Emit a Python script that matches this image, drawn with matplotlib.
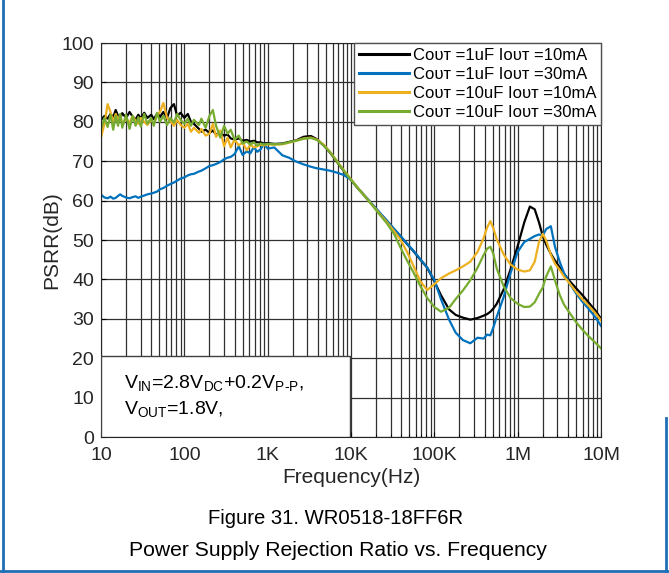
import matplotlib
matplotlib.use('Agg')
import matplotlib.pyplot as plt
from matplotlib.patches import Rectangle
from matplotlib.lines import Line2D

plt.rcParams['font.family'] = ['Liberation Sans', 'DejaVu Sans']
plt.rcParams['mathtext.fontset'] = 'custom'
plt.rcParams['mathtext.rm'] = 'Liberation Sans'
plt.rcParams['mathtext.it'] = 'Liberation Sans:italic'
plt.rcParams['mathtext.bf'] = 'Liberation Sans:bold'

# frequency points (Hz)
freq = [10, 11, 12, 13, 14, 15, 16, 17, 18, 20, 22, 24, 26, 28, 30, 33, 36, 40, 43, 47,
        51, 56, 62, 68, 75, 82, 90, 100, 110, 120, 130, 150, 160, 180, 200, 220, 240, 270,
        300, 330, 360, 400, 450, 500, 560, 620, 680, 750, 820, 900, 1000,
        1200, 1500, 1800, 2200, 2700, 3300, 3900, 4700, 5600, 6800, 8200,
        10e3, 12e3, 15e3, 18e3, 22e3, 27e3, 33e3, 39e3, 47e3, 56e3, 68e3, 82e3,
        100e3, 120e3, 150e3, 180e3, 220e3, 270e3, 330e3, 390e3, 430e3, 470e3, 510e3,
        560e3, 680e3, 820e3, 1e6, 1.2e6, 1.4e6, 1.6e6, 1.8e6, 2.0e6, 2.2e6, 2.5e6,
        2.8e6, 3.2e6, 3.6e6, 4.2e6, 5e6, 6e6, 7e6, 8.5e6, 10e6]

# Cout=1uF, Iout=10mA
psrr_1u_10m = [80.5, 81.5, 80.8, 82.0, 81.2, 83.0, 81.5, 80.8, 82.2, 81.0, 82.5, 81.3, 80.6, 81.8,
               80.9, 82.3, 81.0, 81.8, 80.7, 82.0, 81.2, 82.5, 81.0, 83.5, 84.5, 81.5, 82.3, 81.0,
               82.0, 80.0, 79.5, 78.2, 77.5, 78.0, 77.2, 77.8, 76.8, 77.2, 76.5, 76.8, 75.8, 75.5,
               75.8, 75.2, 75.4, 75.0, 75.2, 74.8, 74.8, 74.5, 74.6,
               74.4, 74.5, 74.9, 75.3, 76.2, 76.4, 75.6, 74.0, 72.2, 69.8, 67.5,
               65.2, 63.2, 60.9, 59.0, 56.9, 54.8, 52.7, 51.0, 49.0, 47.2, 45.0, 43.0,
               39.5, 36.0, 32.4, 31.0, 30.3, 29.8, 30.2, 30.8, 31.2, 31.8, 32.6,
               33.8, 37.5, 42.5, 48.5, 54.5, 58.5, 57.8, 54.5, 51.0, 48.8, 46.5,
               44.8, 43.0, 41.4, 39.6, 37.8, 36.0, 34.3, 32.2, 30.0]

# Cout=1uF, Iout=30mA
psrr_1u_30m = [61.5, 60.8, 60.6, 61.0, 60.5, 60.7, 61.2, 61.6, 61.2, 60.8, 60.6, 60.9, 61.1, 60.7,
               61.0, 61.3, 61.6, 61.8, 62.0, 62.3, 62.9, 63.2, 63.8, 64.2, 64.6, 65.1, 65.6, 65.9,
               66.4, 66.7, 66.8, 67.4, 67.6, 68.2, 68.8, 69.0, 69.3, 69.8, 70.5, 70.9, 71.1, 71.8,
               73.8, 71.6, 72.5, 72.0, 73.6, 72.4, 73.0, 74.4, 73.2,
               73.5, 71.5, 70.9, 69.9, 69.2, 68.6, 68.2, 67.9, 67.6, 67.1, 66.5,
               65.3, 63.3, 61.0, 59.1, 57.0, 54.9, 52.8, 51.1, 49.1, 47.3, 45.1, 43.0,
               39.8, 35.0, 29.8, 26.5, 24.6, 23.8, 25.2, 25.0, 26.0, 25.8, 27.8,
               30.5, 35.6, 41.6, 47.0, 49.5, 50.3, 51.0, 51.4, 51.2, 52.8, 53.5,
               48.3, 44.4, 41.6, 39.0, 36.5, 34.3, 32.7, 30.5, 28.2]

# Cout=10uF, Iout=10mA
psrr_10u_10m = [76.0, 79.5, 84.5, 82.5, 80.0, 82.0, 80.5, 81.8, 79.5, 80.8, 79.8, 81.5, 80.2, 79.5,
                81.0, 80.0, 79.2, 80.6, 79.5, 81.5, 82.5, 84.8, 81.0, 80.2, 79.0, 80.5, 79.2, 78.5,
                79.5, 77.5, 78.5, 77.2, 78.2, 76.5, 77.0, 79.5, 76.2, 77.8, 73.8, 76.0, 73.5, 75.5,
                74.0, 74.8, 72.8, 74.2, 73.5, 73.8, 74.2, 74.0, 74.3,
                74.2, 74.3, 74.7, 75.2, 75.8, 76.0, 75.5, 74.2, 72.4, 70.0, 67.7,
                65.4, 63.3, 60.9, 58.9, 56.7, 54.5, 52.2, 50.2, 47.0, 43.5, 39.5, 37.3,
                38.8, 40.3, 41.5, 42.3, 43.3, 44.5, 47.0, 50.5, 53.2, 54.8, 53.0,
                50.2, 46.3, 43.8, 42.5, 42.0, 42.3, 44.5, 49.5, 51.6, 49.8, 46.3,
                44.0, 42.4, 40.7, 39.0, 36.9, 34.9, 33.5, 31.5, 29.6]

# Cout=10uF, Iout=30mA
psrr_10u_30m = [78.0, 81.0, 78.7, 81.8, 78.0, 81.5, 79.0, 82.0, 78.5, 81.8, 78.2, 81.5, 79.0, 81.2,
                78.8, 82.0, 79.5, 81.0, 79.0, 82.3, 80.0, 81.5, 79.2, 81.0, 79.8, 82.0, 80.5, 79.5,
                80.8, 79.0, 80.5, 79.2, 80.8, 78.5, 81.5, 83.0, 79.0, 76.0, 79.0, 77.0, 78.0, 75.5,
                76.5, 74.5, 75.0, 74.2, 74.8, 74.0, 74.5, 74.2, 74.4,
                74.3, 74.4, 74.8, 75.2, 75.7, 75.9, 75.4, 74.0, 72.3, 69.9, 67.6,
                65.3, 63.2, 60.8, 58.8, 56.5, 54.2, 51.5, 48.2, 44.8, 41.8, 38.3, 35.3,
                33.0, 31.8, 32.8, 35.0, 37.2, 39.8, 43.0, 46.2, 47.8, 48.3, 46.5,
                42.8, 38.2, 35.3, 33.8, 33.0, 33.1, 34.2, 36.3, 38.0, 40.8, 43.3,
                39.8, 36.0, 33.6, 31.5, 29.2, 27.2, 25.7, 24.0, 22.5]

series = [psrr_1u_10m, psrr_1u_30m, psrr_10u_10m, psrr_10u_30m]
labels = ['C\u1d0f\u1d1c\u1d1b =1uF I\u1d0f\u1d1c\u1d1b =10mA',
          'C\u1d0f\u1d1c\u1d1b =1uF I\u1d0f\u1d1c\u1d1b =30mA',
          'C\u1d0f\u1d1c\u1d1b =10uF I\u1d0f\u1d1c\u1d1b =10mA',
          'C\u1d0f\u1d1c\u1d1b =10uF I\u1d0f\u1d1c\u1d1b =30mA']
colors = ['#000000', '#0072BD', '#EDB120', '#77AC30']

xticks = [10, 100, 1e3, 1e4, 1e5, 1e6, 1e7]
xticklabels = ['10', '100', '1K', '10K', '100K', '1M', '10M']

fig = plt.figure(figsize=(6.69, 5.73), dpi=100)
ax = fig.add_axes([0.151, 0.2373, 0.7474, 0.6876])

for ys, lab, c in zip(series, labels, colors):
    ax.plot(freq, ys, color=c, lw=1.6, label=lab)

ax.set_xscale('log')
ax.set_xlim(10, 1e7)
ax.set_ylim(0, 100)
ax.set_yticks(range(0, 101, 10))
ax.set_xticks(xticks, xticklabels)
ax.tick_params(which='both', direction='in', labelsize=14, labelcolor='#262626')
ax.tick_params(axis='x', pad=7)
ax.tick_params(axis='y', pad=5)
ax.grid(True, which='major', color='#303030', lw=0.9)
ax.grid(True, which='minor', axis='x', color='#303030', lw=0.9)
for s in ax.spines.values():
    s.set_color('#262626')

ax.set_xlabel('Frequency(Hz)', fontsize=15, color='#262626', labelpad=3)
ax.set_ylabel('PSRR(dB)', fontsize=15, color='#262626', labelpad=0.5)

leg = ax.legend(loc='upper right', bbox_to_anchor=(1, 1), borderaxespad=0, fancybox=False,
                edgecolor='#505050', framealpha=1, fontsize=12, handlelength=3.0,
                handletextpad=0.2, labelspacing=0.24, borderpad=0.3)
leg.get_frame().set_linewidth(1.0)
for line in leg.get_lines():
    line.set_linewidth(2.2)

# condition box in the lower-left corner
ax.add_patch(Rectangle((0, 0), 0.497, 0.206, transform=ax.transAxes, facecolor='white',
                       edgecolor='#404040', lw=1.0, zorder=3))
ax.text(0.046, 0.137, r'V$_{\mathregular{IN}}$=2.8V$_{\mathregular{DC}}$+0.2V$_{\mathregular{P\text{-}P}}$,',
        transform=ax.transAxes, fontsize=14, va='center', zorder=4)
ax.text(0.046, 0.072, r'V$_{\mathregular{OUT}}$=1.8V,', transform=ax.transAxes,
        fontsize=14, va='center', zorder=4)

fig.text(0.502, 1 - 518 / 573, 'Figure 31. WR0518-18FF6R', ha='center', va='center', fontsize=14.6)
fig.text(0.505, 1 - 550 / 573, 'Power Supply Rejection Ratio vs. Frequency', ha='center',
         va='center', fontsize=15.2)

# page border
fig.add_artist(Line2D([0.005, 0.005], [0, 1], color='#1F6FB8', lw=2))
fig.add_artist(Line2D([0, 1], [0.004, 0.004], color='#1F6FB8', lw=2))
fig.add_artist(Line2D([0.995, 0.995], [0, 0.27], color='#1F6FB8', lw=2))

fig.savefig('out.png', dpi=100)
